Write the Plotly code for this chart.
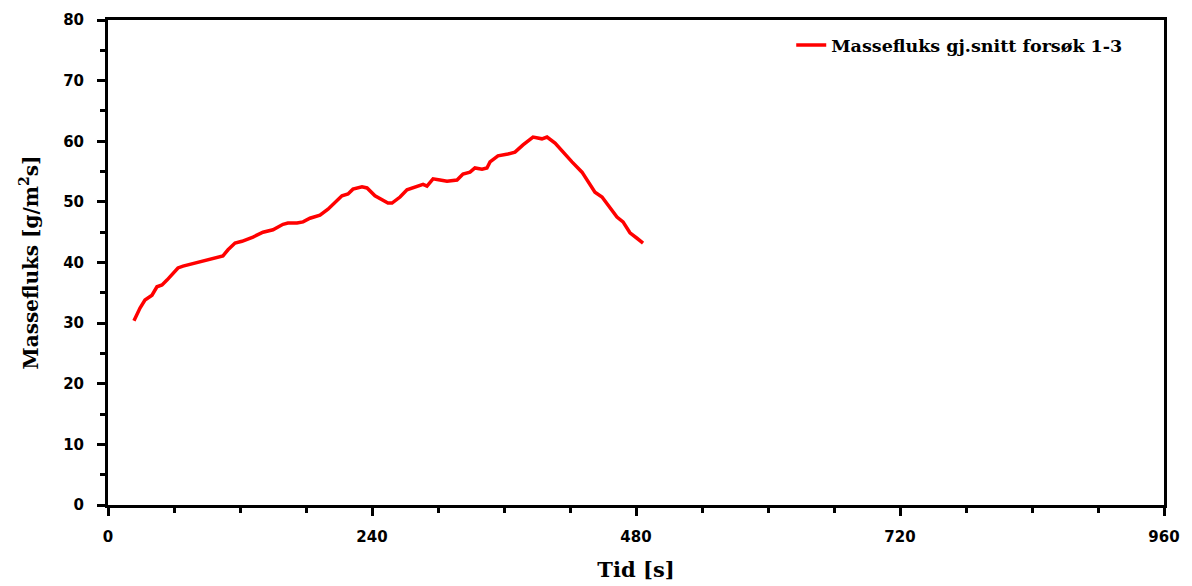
import plotly.graph_objects as go

# Data
time_s = [23.6, 29.1, 33.6, 40.0, 44.5, 49.1, 53.6, 58.2, 63.6, 68.2, 76.4, 85.5, 94.5,
          104.5, 109.1, 115.5, 121.8, 131.8, 140.9, 150.0, 159.1, 163.6, 171.8, 177.3,
          183.6, 192.7, 200.0, 206.4, 212.7, 218.2, 222.7, 230.9, 235.5, 242.7, 249.1,
          254.5, 258.2, 265.5, 271.8, 279.1, 286.4, 290.0, 295.5, 301.8, 308.2, 317.3,
          322.7, 329.1, 333.6, 340.0, 344.5, 347.3, 354.5, 363.6, 370.0, 377.3, 386.4,
          394.5, 399.1, 406.4, 413.6, 421.8, 430.9, 436.4, 442.7, 449.1, 456.4, 462.7,
          468.2, 474.5, 480.9, 486.4]
massefluks = [30.4, 32.5, 33.8, 34.6, 36.0, 36.3, 37.1, 38.1, 39.1, 39.4, 39.8, 40.2, 40.7,
              41.1, 42.1, 43.2, 43.5, 44.2, 45.0, 45.4, 46.3, 46.5, 46.5, 46.7,
              47.3, 47.8, 48.8, 50.0, 51.0, 51.3, 52.1, 52.5, 52.3, 51.0, 50.3,
              49.8, 49.8, 50.8, 52.0, 52.5, 52.9, 52.6, 53.8, 53.6, 53.4, 53.6,
              54.6, 54.9, 55.6, 55.4, 55.6, 56.6, 57.6, 57.9, 58.2, 59.4, 60.7,
              60.4, 60.7, 59.7, 58.2, 56.6, 54.9, 53.3, 51.6, 50.8, 49.0, 47.5,
              46.7, 44.9, 44.0, 43.2]
series_name = "Massefluks gj.snitt forsøk 1-3"
x_ticks = [0, 240, 480, 720, 960]
y_ticks = [0, 10, 20, 30, 40, 50, 60, 70, 80]

fig = go.Figure()
fig.add_trace(go.Scatter(
    x=time_s, y=massefluks, mode="lines", name=series_name,
    line=dict(color="#ff0000", width=3.5),
))

tick_font = dict(family="DejaVu Sans, sans-serif", size=15, color="black", weight="bold")
title_font = dict(family="DejaVu Serif, serif", size=20, color="black", weight="bold")
xtitle_font = dict(family="DejaVu Serif, serif", size=21, color="black", weight="bold")

fig.update_layout(
    width=1192, height=586,
    margin=dict(l=108, r=28, t=20, b=81, autoexpand=False),
    paper_bgcolor="white", plot_bgcolor="white",
    showlegend=True,
    legend=dict(
        x=0.647, y=0.948, xanchor="left", yanchor="middle",
        bgcolor="rgba(0,0,0,0)", borderwidth=0,
        font=dict(family="DejaVu Serif, serif", size=17.5, color="black", weight="bold"),
        itemwidth=30,
    ),
    xaxis=dict(
        range=[0, 960], tickvals=x_ticks, ticktext=[str(v) for v in x_ticks],
        showgrid=False, zeroline=False, automargin=False,
        showline=True, linecolor="black", linewidth=3, mirror=True,
        ticks="outside", ticklen=8, tickwidth=3, tickcolor="black",
        minor=dict(dtick=60, ticks="outside", ticklen=5, tickwidth=3, tickcolor="black", showgrid=False),
        tickfont=tick_font, ticklabelstandoff=8,
        title=dict(text="Tid [s]", font=xtitle_font, standoff=18),
    ),
    yaxis=dict(
        range=[0, 80], tickvals=y_ticks, ticktext=[str(v) for v in y_ticks],
        showgrid=False, zeroline=False, automargin=False,
        showline=True, linecolor="black", linewidth=3, mirror=True,
        ticks="outside", ticklen=8, tickwidth=3, tickcolor="black",
        minor=dict(dtick=5, ticks="outside", ticklen=5, tickwidth=3, tickcolor="black", showgrid=False),
        tickfont=tick_font, ticklabelstandoff=10,
        title=dict(text="Massefluks [g/m<sup>2</sup>s]", font=title_font, standoff=20),
    ),
    xaxis2=dict(
        overlaying="x", range=[0, 960], tickvals=x_ticks, showticklabels=False,
        showgrid=False, zeroline=False, showline=False, automargin=False,
        ticks="inside", ticklen=8, tickwidth=3, tickcolor="black",
    ),
    yaxis2=dict(
        overlaying="y", range=[0, 80], tickvals=y_ticks, showticklabels=False,
        showgrid=False, zeroline=False, showline=False, automargin=False,
        ticks="inside", ticklen=8, tickwidth=3, tickcolor="black",
    ),
)

fig.write_html("out.html")
